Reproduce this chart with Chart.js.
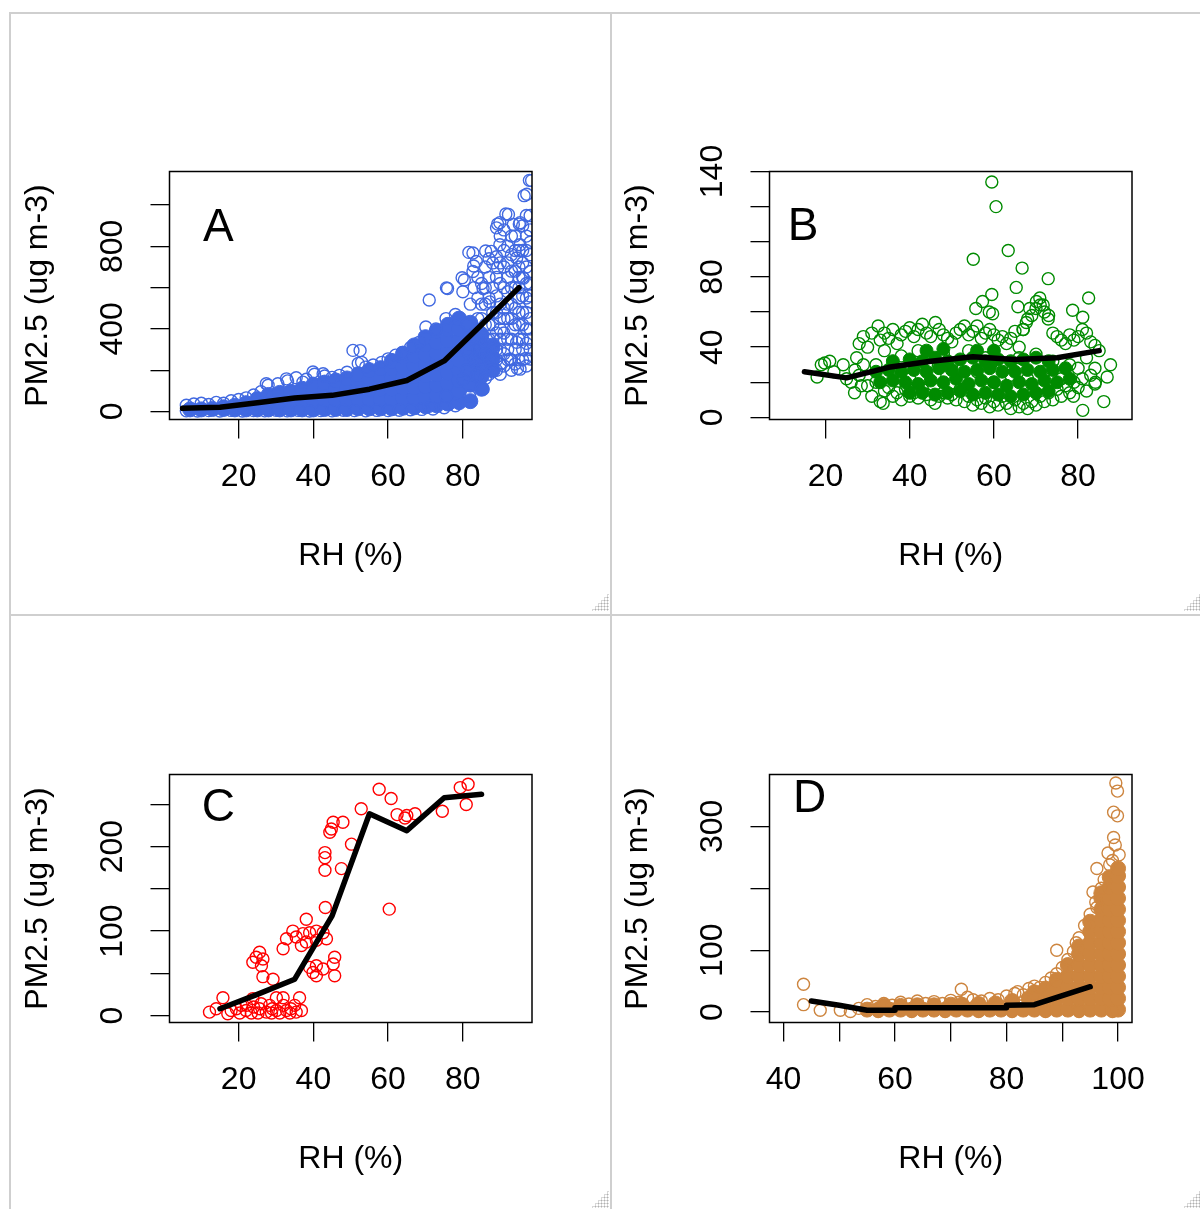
<!DOCTYPE html>
<html>
<head>
<meta charset="utf-8">
<script src="https://cdn.jsdelivr.net/npm/chart.js@4.4.1/dist/chart.umd.min.js"></script>
<style>
  html, body { margin: 0; padding: 0; background: #fff; }
  body { position: relative; width: 1200px; height: 1209px; overflow: hidden; }
  canvas { position: absolute; }
  .rule { position: absolute; background: #cfcfcf; }
  .grip { position: absolute; width: 18px; height: 18px;
          background-image: radial-gradient(#b0b0b0 0.9px, transparent 1.1px);
          background-size: 3px 3px; clip-path: polygon(100% 0, 100% 100%, 0 100%); }
</style>
</head>
<body>
<div class="rule" style="left:10px;top:12px;width:1190px;height:2px"></div>
<div class="rule" style="left:10px;top:614px;width:1190px;height:2px"></div>
<div class="rule" style="left:9px;top:12px;width:2px;height:1197px"></div>
<div class="rule" style="left:610px;top:12px;width:2px;height:1197px"></div>
<div class="grip" style="left:591px;top:593px"></div>
<div class="grip" style="left:1183px;top:593px"></div>
<div class="grip" style="left:591px;top:1190px"></div>
<div class="grip" style="left:1183px;top:1190px"></div>

<canvas id="panelA" width="600" height="600" style="left:0;top:0"></canvas>
<canvas id="panelB" width="600" height="600" style="left:600px;top:0"></canvas>
<canvas id="panelC" width="600" height="600" style="left:0;top:603px"></canvas>
<canvas id="panelD" width="600" height="600" style="left:600px;top:603px"></canvas>

<script>
// ---- Panel A (blue) ----
const aXTicks = [20, 40, 60, 80];
const aXLabels = [20, 40, 60, 80];
const aYTicks = [0, 200, 400, 600, 800, 1000];
const aYLabels = [0, 400, 800];
const aLineRH = [5, 15, 25, 35, 45, 55, 65, 75, 85, 95];
const aLinePM = [15, 20, 42, 65, 78, 108, 150, 245, 420, 600];
// open circles (edges, outliers, upper-right cloud)
const aPts = [
  [6,3],[9,2],[12,4],[15,2],[18,5],[21,2],[24,4],[27,3],[30,6],[33,3],[36,5],[39,2],[42,4],[45,3],[48,6],
  [51,4],[54,3],[57,5],[60,4],[63,6],[66,8],[69,10],[72,12],[75,18],[78,28],[71,25],
  [6,30],[8,36],[10,40],[12,34],[14,44],[16,40],[18,52],[20,58],[22,66],[24,80],[26,96],[27.9,127],[27.4,134],
  [30.5,134],[32.8,158],[33.1,148],[35.4,163],[37.2,142],[38.1,156],[39.9,191],[40.3,180],[42.6,183],[43,172],
  [45,165],[47,175],[49,190],[50.6,296],[52.5,295],[52.9,238],[52,233],[54,215],[56,225],[58.3,238],[60,255],
  [62,273],[63.8,286],[66,310],[68.3,335],[70.1,409],[72.8,400],[71,540],[75.5,450],[75.6,599],[75.9,596],
  [78,470],[80,580],[80.4,637],[79.8,648],[82.7,678],[83.6,727],[82.7,768],[81.6,771],[82.9,705],[86.1,778],
  [87.6,776],[89.9,808],[89.3,697],[89,890],[89.3,908],[92.2,955],[91.5,957],[89.9,915],[93.5,906],[95.3,915],
  [95.1,908],[98.4,1119],[97.8,1120],[97.1,1053],[96.4,1046],[95.3,808],[94.4,744],[96.2,646],[98,678],
  [95.3,205],[94.6,208],[96.8,257],[98,254],[92.6,254],[94.4,335],[93.5,400],[98,400],[98,531],[89.9,450],
  [87.2,531],[85.4,596],[83.6,172],[85.4,107],[81.8,74],[88.1,303],[84.5,303],[80,156],[75.5,74],
  [81,200],[81,300],[81,420],[82,520],[83,250],[83,350],[83,600],[84,180],[84,450],[84,650],[85,280],[85,380],
  [85,520],[86,230],[86,330],[86,600],[86,700],[87,180],[87,420],[87,650],[88,250],[88,350],[88,480],[88,720],
  [89,200],[89,300],[89,560],[89,750],[90,230],[90,400],[90,620],[90,850],[91,280],[91,500],[91,700],[91,880],
  [92,350],[92,450],[92,580],[92,800],[93,250],[93,520],[93,680],[93,760],[94,300],[94,420],[94,600],[94,850],
  [95,350],[95,480],[95,650],[95,700],[96,250],[96,420],[96,560],[96,780],[96,900],[97,330],[97,480],[97,620],
  [97,850],[97,950],[98,300],[98,560],[98,760],[98,880],
  [84,250],[84,350],[84,550],[85,200],[85,450],[85,620],[86,160],[86,280],[86,420],[86,520],[87,250],[87,350],
  [87,550],[87,740],[88,200],[88,300],[88,420],[88,600],[89,250],[89,380],[89,480],[89,650],[90,180],[90,300],
  [90,350],[90,520],[90,720],[91,220],[91,380],[91,450],[91,600],[91,780],[92,250],[92,300],[92,520],[92,650],
  [92,720],[93,200],[93,350],[93,450],[93,600],[93,850],[94,230],[94,500],[94,680],[94,780],[95,250],[95,420],
  [95,550],[95,600],[95,780],[96,300],[96,350],[96,480],[96,650],[96,720],[97,220],[97,400],[97,550],[97,700],
  [97,780],[98,350],[98,450],[98,620],[98,820],[98,950]
];
// overlapping circles in the dense band, drawn solid
const aCore = [
  [7,10],[10,10],[13,12],[16,12],[16,20],[19,10],[19,28],[22,10],[22,40],[25,10],[25,40],[25,60],
  [28,10],[28,45],[28,80],[31,10],[31,50],[31,90],[34,10],[34,50],[34,95],[37,10],[37,55],[37,110],
  [40,10],[40,55],[40,100],[40,130],[43,12],[43,58],[43,105],[43,140],[46,12],[46,58],[46,105],[46,150],
  [49,12],[49,60],[49,110],[49,160],[52,15],[52,60],[52,110],[52,160],[52,180],
  [55,15],[55,60],[55,110],[55,160],[55,200],[58,15],[58,62],[58,110],[58,160],[58,210],
  [61,15],[61,62],[61,110],[61,160],[61,210],[61,245],[64,18],[64,65],[64,115],[64,165],[64,215],[64,265],[64,280],
  [67,20],[67,68],[67,118],[67,170],[67,220],[67,270],[67,320],
  [70,25],[70,72],[70,122],[70,175],[70,225],[70,275],[70,325],[70,360],
  [73,30],[73,78],[73,128],[73,180],[73,232],[73,285],[73,335],[73,390],
  [76,38],[76,85],[76,135],[76,188],[76,240],[76,292],[76,345],[76,400],[76,420],
  [79,45],[79,100],[79,150],[79,200],[79,250],[79,300],[79,350],[79,400],[79,450],
  [82,50],[82,130],[82,180],[82,230],[82,280],[82,330],[82,380],[82,430],
  [85,110],[85,170],[85,220],[85,270],[85,320],[85,370],[88,200],[88,260],[88,320]
];

// ---- Panel B (green) ----
const bXTicks = [20, 40, 60, 80];
const bXLabels = [20, 40, 60, 80];
const bYTicks = [0, 20, 40, 60, 80, 100, 120, 140];
const bYLabels = [0, 40, 80, 140];
const bLineRH = [15, 25, 35, 45, 55, 65, 75, 85];
const bLinePM = [26, 22.5, 28.5, 32, 34.5, 33, 34, 38];
const bPts = [
  [18,23],[19,30],[19.8,31],[21,32],[22,26],[24.2,30],[25,22],[26.1,20],[26.9,14],[27.4,34],[28,24],[28.5,18],[29,30],[27,27],
  [28,42],[29,46],[30,40],[31,48],[32.5,52],[33,44],[34,48],[35,45],[36,50],[37,42],[38,47],[39,49],[40,51],[41,46],
  [42,50],[43,53],[44,48],[45,46],[46.1,54],[47,50],[48,47],[49,45],[50,43],[51,48],[52,50],[53,52],[54,47],[55,49],
  [56,52],[57,45],[58,48],[59,50],[60,47],[61,44],[62,46],[63,42],[64,45],[65,49],[66,40],[67,50],[68,56],[69,58],
  [70,62],[71,64],[72,60],[73,58],[74,48],[75,46],[76,44],[77,42],[78,47],[79,44],[80,46],[81,50],[82,48],[83,43],
  [84,41],[85,38],
  [30,18],[31,12],[32,20],[33,9],[33.7,8],[34,15],[35,17],[36,12],[37,14],[38,10],[39,16],[40,12],[41,14],[42,11],
  [43,16],[44,13],[45,10],[46,8],[47,12],[48,14],[49,11],[50,13],[51,10],[52,16],[53,9],[54,12],[55,7],[56,10],
  [57,8],[58,11],[59,6],[60,9],[61,7],[62,12],[63,8],[64,5],[65,10],[66,6],[67,8],[68,5],[69,9],[70,7],[71,12],
  [72,9],[73,14],[74,10],[75,16],[76,12],[77,18],[78,14],[79,20],[80,17],[81,22],[82,15],[83,24],[84,19],
  [32,30],[34,38],[36,28],[38,35],[40,22],[42,38],[44,30],[46,24],[48,36],[50,30],[52,22],[54,38],[56,26],[58,34],
  [60,20],[62,30],[64,24],[66,34],[68,22],[70,36],[72,26],[74,32],[76,22],[78,30],[80,28],[82,34],[84,28],
  [59.5,134],[60.5,120],[55.1,90],[63.4,95],[66.7,85],[72.9,79],[65.3,74],[59.5,70],[65.7,63],[82.5,68],[78.7,61],
  [81.1,57],[87.7,30],[86.9,23],[84.1,20],[86.1,9],[81.1,4],[78.9,12],[55.7,62],[57.3,66],[58.9,60],[59.7,59],
  [68.5,62],[70.1,66],[71.7,64],[70.9,68],[72.9,56],[67.7,54],[66.9,50]
];
const bCore = [
  [40,14],[43,14],[46,13],[49,14],[52,15],[55,13],[58,14],[61,13],[64,12],[67,13],[70,14],[73,15],
  [33,20],[36,21],[39,20],[42,19],[45,21],[48,20],[51,22],[54,19],[57,21],[60,20],[63,18],[66,20],[69,19],[72,21],[75,20],[78,22],
  [32,26],[35,27],[38,26],[41,27],[44,26],[47,28],[50,27],[53,26],[56,27],[59,28],[62,26],[65,26],[68,27],[71,26],[74,27],[77,28],
  [36,32],[40,33],[43,32],[46,34],[49,32],[52,33],[55,34],[58,32],[61,33],[64,32],[67,33],[70,34],[73,32],
  [44,38],[48,39],[56,38],[60,38]
];

// ---- Panel C (red) ----
const cXTicks = [20, 40, 60, 80];
const cXLabels = [20, 40, 60, 80];
const cYTicks = [0, 50, 100, 150, 200, 250];
const cYLabels = [0, 100, 200];
const cLineRH = [15, 25, 35, 45, 55, 65, 75, 85];
const cLinePM = [8, 25, 43, 118, 239, 219, 258, 262];
const cPts = [
  [12.2,4],[14,8],[15.8,21],[17.1,2],[18,6],[19.4,8],[20.3,3],[20.7,12],[22.1,12],[23.4,3],[23.8,20],[25.2,3],
  [25.6,8],[27.4,4],[28.3,12],[28.8,3],[30.1,6],[30.1,21],[31,3],[31.9,21],[32.8,6],[33.7,3],[35,12],[35.4,4],
  [36.3,21],[36.8,6],[22,6],[24,10],[26,14],[29,8],[32,12],[34,8],
  [23.8,63],[24.7,69],[25.6,75],[26.5,67],[26.1,59],[26.5,46],[29.2,43],[31.9,79],[32.8,91],[34.5,100],[35.4,93],
  [36.8,83],[37.2,97],[38.1,114],[38.1,87],[39,98],[39,57],[39.9,51],[40.8,100],[40.8,89],[40.8,59],[40.8,47],
  [42.6,98],[42.6,55],[43.2,128],[43.5,91],[45.3,61],[45.7,69],[45.7,47],
  [43.1,193],[43.1,187],[43.1,172],[44.4,217],[44.8,221],[45.3,229],[47.9,229],[47.5,174],[50.2,203],[52.8,245],
  [57.6,268],[60.8,257],[62.4,238],[64.5,234],[65,237],[67.2,239],[60.3,126],[74.5,242],[79.3,270],[80.9,250],[81.4,274]
];

// ---- Panel D (tan) ----
const dXTicks = [40, 50, 60, 70, 80, 90, 100];
const dXLabels = [40, 60, 80, 100];
const dYTicks = [0, 100, 200, 300];
const dYLabels = [0, 100, 300];
const dLineRH = [45, 50, 55, 60, 60, 80, 80, 85, 95];
const dLinePM = [18, 11, 3, 3, 7, 7, 11, 12, 41];
const dPts = [
  [43.6,45],[43.6,12],[46.6,3],[50.2,3],[52,1],[53.5,6],
  [55,12],[56.5,9],[58,14],[59.5,11],[61,16],[62.5,13],[64,18],[65.5,14],[67,17],[68.5,14],[70,19],[71.5,16],
  [71.9,37],[73,24],[74,20],[75.5,18],[77,22],[78.5,20],[80,26],[81.5,30],[82,33],[83,28],[84,38],[85,42],
  [86,40],[87,48],[88,55],[89,100],[89,62],[90,72],[91,85],[92,98],[92.5,112],[93,120],[94,140],[95,158],
  [95.5,194],[96,178],[96.2,232],[96.2,169],[97,200],[97.5,214],[98.2,257],[98.5,238],[99,245],[99.2,282],
  [99.5,270],[99.2,323],[99.9,317],[99.6,370],[99.9,357],[100.2,254],
  [57,1],[63,1],[69,1],[75,1],[81,1],[87,1],[93,1],[99,1]
];
const dCore = [
  [55,4],[57,4],[59,4],[61,4],[63,4],[65,4],[67,4],[69,4],[71,4],[73,4],[75,4],[77,4],[79,4],[81,4],[83,4],
  [85,4],[87,4],[89,4],[91,4],[93,4],[95,4],[97,4],[99,4],[100,4],
  [58,10],[61,10],[64,11],[67,11],[70,12],[72,12],[75,13],[78,14],[81,18],[84,22],[87,28],
  [85,22],[85,32],[87,22],[87,38],[89,22],[89,40],[89,52],[91,22],[91,40],[91,58],[91,76],
  [93,22],[93,40],[93,58],[93,76],[93,94],[93,106],
  [95,22],[95,40],[95,58],[95,76],[95,94],[95,112],[95,130],[95,146],
  [97,22],[97,40],[97,58],[97,76],[97,94],[97,112],[97,130],[97,148],[97,166],[97,184],[97,192],
  [98.5,22],[98.5,40],[98.5,58],[98.5,76],[98.5,94],[98.5,112],[98.5,130],[98.5,148],[98.5,166],[98.5,184],[98.5,202],[98.5,218],
  [100,22],[100,40],[100,58],[100,76],[100,94],[100,112],[100,130],[100,148],[100,166],[100,184],[100,202],[100,220],[100,232]
];

const FONT = "'Liberation Sans', Arial, sans-serif";
Chart.defaults.font.family = FONT;

const xy = pts => pts.map(([x, y]) => ({ x, y }));
const joinLine = (xs, ys) => xs.map((x, i) => ({ x, y: ys[i] }));

// box round the plot region + the panel letter
const boxAndLetter = {
  id: 'boxAndLetter',
  afterDraw(chart, args, opts) {
    const { ctx, chartArea: a, scales } = chart;
    ctx.save();
    ctx.lineWidth = 1.5;
    ctx.strokeStyle = '#000';
    ctx.strokeRect(a.left, a.top, a.right - a.left, a.bottom - a.top);
    ctx.font = '46px ' + FONT;
    ctx.fillStyle = '#000';
    ctx.textAlign = 'center';
    ctx.textBaseline = 'middle';
    ctx.fillText(opts.text, scales.x.getPixelForValue(opts.at[0]), scales.y.getPixelForValue(opts.at[1]));
    ctx.restore();
  }
};

function makePanel(id, p) {
  const tickFont = { family: FONT, size: 32 };
  const grid = { drawOnChartArea: false, drawTicks: true, tickLength: 19, color: '#000', lineWidth: 1.3 };
  new Chart(document.getElementById(id), {
    type: 'scatter',
    data: {
      datasets: [
        { type: 'line', data: joinLine(p.lineRH, p.linePM), borderColor: '#000', borderWidth: 5.5,
          pointRadius: 0, tension: 0, borderCapStyle: 'round', borderJoinStyle: 'round', clip: 0 },
        { data: xy(p.pts), pointRadius: 6, borderWidth: 1.4, borderColor: p.color,
          backgroundColor: 'rgba(0,0,0,0)', clip: 0 },
        { data: xy(p.core), pointRadius: p.coreRadius, borderWidth: 1, borderColor: p.color,
          backgroundColor: p.color, clip: 0 }
      ]
    },
    options: {
      responsive: false,
      animation: false,
      events: [],
      layout: { padding: { left: 0, top: 171.5, right: 68, bottom: 0 } },
      plugins: {
        legend: { display: false },
        tooltip: { enabled: false },
        boxAndLetter: { text: p.letter, at: p.letterAt }
      },
      scales: {
        x: {
          type: 'linear', position: 'bottom', min: p.xMin, max: p.xMax,
          afterBuildTicks: s => { s.ticks = p.xTicks.map(v => ({ value: v })); },
          afterFit: s => { s.height = 180.5; },
          grid: grid,
          border: { display: false },
          ticks: { autoSkip: false, minRotation: 0, maxRotation: 0, padding: 19.3, color: '#000', font: tickFont,
                   callback: v => p.xLabels.includes(v) ? String(v) : '' },
          title: { display: true, text: 'RH (%)', color: '#000', font: tickFont, padding: { top: 0, bottom: 24.8 } }
        },
        y: {
          type: 'linear', position: 'left', min: p.yMin, max: p.yMax,
          afterBuildTicks: s => { s.ticks = p.yTicks.map(v => ({ value: v })); },
          afterFit: s => { s.width = 169.5; },
          grid: grid,
          border: { display: false },
          ticks: { autoSkip: false, minRotation: 90, maxRotation: 90, crossAlign: 'center', padding: 11,
                   color: '#000', font: tickFont,
                   callback: v => p.yLabels.includes(v) ? String(v) : '' },
          title: { display: true, text: 'PM2.5 (ug m-3)', color: '#000', font: tickFont, padding: { top: 19.3, bottom: 0 } }
        }
      }
    },
    plugins: [boxAndLetter]
  });
}

makePanel('panelA', { color: '#4169E1', pts: aPts, core: aCore, coreRadius: 7.5,
  lineRH: aLineRH, linePM: aLinePM, xMin: 1.5, xMax: 98.5, yMin: -39, yMax: 1163,
  xTicks: aXTicks, xLabels: aXLabels, yTicks: aYTicks, yLabels: aYLabels, letter: 'A', letterAt: [14.6, 887] });

makePanel('panelB', { color: '#008B00', pts: bPts, core: bCore, coreRadius: 6.5,
  lineRH: bLineRH, linePM: bLinePM, xMin: 6.7, xMax: 92.8, yMin: -1.2, yMax: 140,
  xTicks: bXTicks, xLabels: bXLabels, yTicks: bYTicks, yLabels: bYLabels, letter: 'B', letterAt: [14.7, 108] });

makePanel('panelC', { color: '#FF0000', pts: cPts, core: [], coreRadius: 6,
  lineRH: cLineRH, linePM: cLinePM, xMin: 1.5, xMax: 98.5, yMin: -8.3, yMax: 285.5,
  xTicks: cXTicks, xLabels: cXLabels, yTicks: cYTicks, yLabels: cYLabels, letter: 'C', letterAt: [14.6, 245] });

makePanel('panelD', { color: '#CD853F', pts: dPts, core: dCore, coreRadius: 7.5,
  lineRH: dLineRH, linePM: dLinePM, xMin: 37.5, xMax: 102.5, yMin: -16.8, yMax: 383.8,
  xTicks: dXTicks, xLabels: dXLabels, yTicks: dYTicks, yLabels: dYLabels, letter: 'D', letterAt: [44.7, 343] });
</script>
</body>
</html>
